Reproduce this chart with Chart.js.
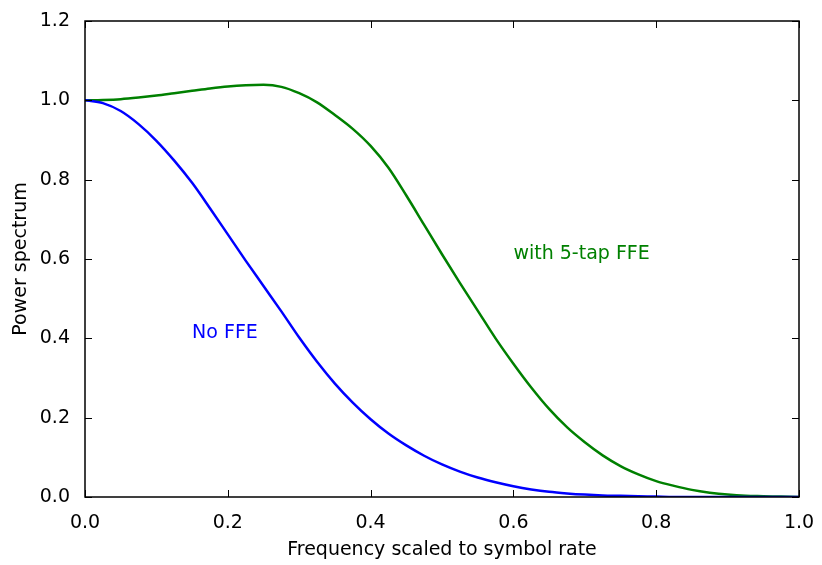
<!DOCTYPE html>
<html>
<head>
<meta charset="utf-8">
<script src="https://cdn.jsdelivr.net/npm/chart.js@4.4.1/dist/chart.umd.min.js"></script>
<style>
  html, body { margin: 0; padding: 0; background: #fff; }
  #wrap { width: 822px; height: 565px; }
</style>
</head>
<body>
<div id="wrap"><canvas id="spectrumChart"></canvas></div>
<script>
// frequency axis (scaled to symbol rate)
const freq = [0, 0.025, 0.05, 0.075, 0.1, 0.125, 0.15, 0.175, 0.2, 0.225,
              0.25, 0.275, 0.3, 0.325, 0.35, 0.375, 0.4, 0.425, 0.45, 0.475,
              0.5, 0.525, 0.55, 0.575, 0.6, 0.625, 0.65, 0.675, 0.7, 0.725,
              0.75, 0.775, 0.8, 0.825, 0.85, 0.875, 0.9, 0.925, 0.95, 0.975, 1.0];
const noFfe = [1.000, 0.993, 0.973, 0.940, 0.898, 0.848, 0.792, 0.728, 0.662, 0.596,
               0.532, 0.468, 0.402, 0.341, 0.286, 0.238, 0.196, 0.160, 0.130, 0.104,
               0.082, 0.064, 0.049, 0.037, 0.027, 0.019, 0.013, 0.009, 0.006, 0.004,
               0.003, 0.002, 0.001, 0.000, 0.000, 0.000, 0.000, 0.000, 0.000, 0.000, 0.000];
const withFfe = [1.000, 1.001, 1.003, 1.007, 1.012, 1.018, 1.024, 1.030, 1.035, 1.038,
                 1.039, 1.034, 1.018, 0.995, 0.963, 0.928, 0.885, 0.830, 0.760, 0.686,
                 0.612, 0.540, 0.470, 0.400, 0.336, 0.276, 0.222, 0.176, 0.138, 0.105,
                 0.078, 0.057, 0.040, 0.028, 0.018, 0.011, 0.006, 0.003, 0.002, 0.001, 0.000];

const xTicks = [0, 0.2, 0.4, 0.6, 0.8, 1.0];
const yTicks = [0, 0.2, 0.4, 0.6, 0.8, 1.0, 1.2];

// text labels placed in data coordinates
const notes = [
  { text: 'No FFE', x: 0.15, y: 0.4, color: '#0000ff' },
  { text: 'with 5-tap FFE', x: 0.6, y: 0.6, color: '#008000' }
];

const FONT = "'DejaVu Sans', 'Liberation Sans', sans-serif";

// matplotlib-style box with inward ticks on all four sides, plus text notes
const framePlugin = {
  id: 'frame',
  afterDatasetsDraw(chart) {
    const { ctx, chartArea: a, scales: { x, y } } = chart;
    ctx.save();
    ctx.strokeStyle = '#000';
    ctx.lineWidth = 1;
    ctx.beginPath();
    xTicks.forEach(v => {
      const px = Math.round(x.getPixelForValue(v)) + 0.5;
      ctx.moveTo(px, a.bottom); ctx.lineTo(px, a.bottom - 7);
      ctx.moveTo(px, a.top); ctx.lineTo(px, a.top + 7);
    });
    yTicks.forEach(v => {
      const py = Math.round(y.getPixelForValue(v)) + 0.5;
      ctx.moveTo(a.left, py); ctx.lineTo(a.left + 7, py);
      ctx.moveTo(a.right, py); ctx.lineTo(a.right - 7, py);
    });
    ctx.stroke();
    ctx.lineWidth = 1.5;
    ctx.strokeRect(a.left, a.top, a.right - a.left, a.bottom - a.top);

    ctx.font = '19px ' + FONT;
    ctx.textAlign = 'left';
    ctx.textBaseline = 'alphabetic';
    notes.forEach(n => {
      ctx.fillStyle = n.color;
      ctx.fillText(n.text, x.getPixelForValue(n.x), y.getPixelForValue(n.y));
    });
    ctx.restore();
  }
};

new Chart(document.getElementById('spectrumChart'), {
  type: 'line',
  data: {
    datasets: [
      {
        label: 'No FFE',
        data: freq.map((f, i) => ({ x: f, y: noFfe[i] })),
        borderColor: '#0000ff',
        borderWidth: 2.5,
        pointRadius: 0,
        cubicInterpolationMode: 'monotone',
        fill: false
      },
      {
        label: 'with 5-tap FFE',
        data: freq.map((f, i) => ({ x: f, y: withFfe[i] })),
        borderColor: '#008000',
        borderWidth: 2.5,
        pointRadius: 0,
        cubicInterpolationMode: 'monotone',
        fill: false
      }
    ]
  },
  options: {
    responsive: true,
    maintainAspectRatio: false,
    animation: false,
    layout: { padding: { top: 21, right: 23, left: 0, bottom: 0 } },
    plugins: {
      legend: { display: false },
      tooltip: { enabled: false }
    },
    scales: {
      x: {
        type: 'linear',
        min: 0,
        max: 1,
        afterBuildTicks: s => { s.ticks = xTicks.map(v => ({ value: v })); },
        afterFit: s => { s.height = 68; },
        grid: { display: false },
        border: { display: false },
        ticks: {
          padding: 7,
          color: '#000',
          font: { family: FONT, size: 19 },
          maxRotation: 0,
          callback: v => v.toFixed(1)
        },
        title: {
          display: true,
          text: 'Frequency scaled to symbol rate',
          color: '#000',
          font: { family: FONT, size: 19 },
          padding: { top: 0, bottom: 4 }
        }
      },
      y: {
        type: 'linear',
        min: 0,
        max: 1.2,
        afterBuildTicks: s => { s.ticks = yTicks.map(v => ({ value: v })); },
        afterFit: s => { s.width = 85; },
        grid: { display: false },
        border: { display: false },
        ticks: {
          padding: 7,
          color: '#000',
          font: { family: FONT, size: 19 },
          callback: v => v.toFixed(1)
        },
        title: {
          display: true,
          text: 'Power spectrum',
          color: '#000',
          font: { family: FONT, size: 19 },
          padding: { top: 10, bottom: 4 }
        }
      }
    }
  },
  plugins: [framePlugin]
});
</script>
</body>
</html>
